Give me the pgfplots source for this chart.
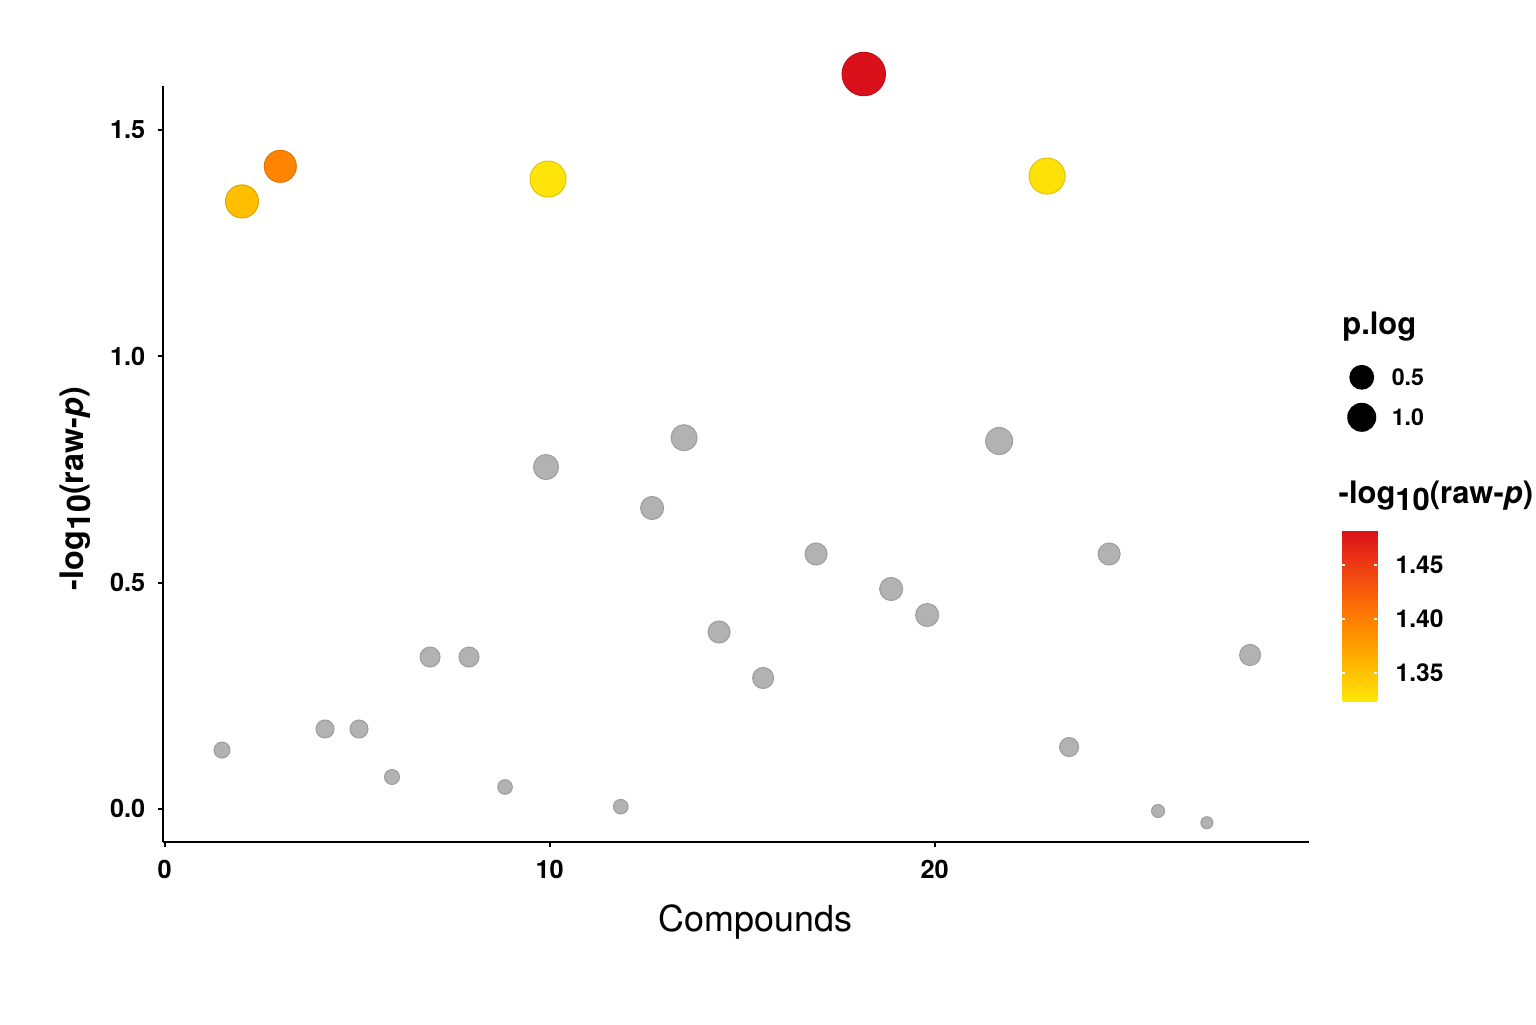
\documentclass[border=0pt]{standalone}
\usepackage{fontspec}
\setmainfont{TeX Gyre Heros}
\usepackage{pgfplots}
\pgfplotsset{compat=1.18}
\usepackage{pgfplotstable}

\definecolor{ptgray}{RGB}{178,178,178}
\definecolor{ptgrayedge}{RGB}{158,158,158}

% gray (non-significant) compounds: x, -log10(p), radius (px)
\pgfplotstableread{
x y r
1.491 0.130 8
4.166 0.1765 9
5.049 0.1765 9
5.906 0.0705 7.5
6.894 0.3355 10
7.906 0.3355 10
8.842 0.0484 7.3
9.906 0.7552 12.5
11.847 0.0049 7.3
12.660 0.6647 11.5
13.491 0.8200 13
14.400 0.3908 11
15.543 0.2892 10.5
16.919 0.5631 11
18.868 0.4858 11.5
19.803 0.4283 11.5
21.673 0.8127 13.5
23.490 0.1367 9.5
24.530 0.5631 11
25.800 -0.0046 6.5
27.068 -0.0305 6
28.190 0.3400 10.5
}\graydata

% significant compounds: x, -log10(p), radius (px), colour value
\pgfplotstableread{
x y r c
2.010 1.3420 16.5 1.352
3.005 1.4195 16.0 1.395
9.958 1.3914 18.0 1.326
18.158 1.6234 21.7 1.4825
22.919 1.3980 18.0 1.328
}\hitdata

\pgfplotsset{colormap={ylorred}{rgb255(0cm)=(255,232,10) rgb255(17cm)=(255,192,0) rgb255(49cm)=(255,125,0) rgb255(80cm)=(238,58,20) rgb255(100cm)=(218,16,26)}}

\begin{document}
\begin{tikzpicture}
\path[use as bounding box] (0,0) rectangle (15.36cm,-10.24cm);
\begin{axis}[
  at={(1.627cm,-8.423cm)}, anchor=south west,
  scale only axis, width=11.463cm, height=7.563cm,
  xmin=-0.049, xmax=29.72, ymin=-0.0738, ymax=1.5969,
  axis x line*=bottom, axis y line*=left,
  axis line style={line width=0.6pt, black, -},
  xtick={0,10,20}, ytick={0,0.5,1,1.5},
  tick align=outside, major tick length=0.5mm,
  tick style={line width=0.6pt, black},
  /pgf/number format/assume math mode=true,
  ticklabel style={font=\bfseries\fontsize{7.2}{8}\selectfont},
  yticklabel style={/pgf/number format/fixed, /pgf/number format/fixed zerofill, /pgf/number format/precision=1},
  xlabel={Compounds},
  xlabel style={font=\fontsize{10.2}{12}\selectfont, at={(axis description cs:0.517,-0.0665)}, anchor=north},
  ylabel={\bfseries -log\raisebox{-0.45ex}{10}(raw-\textit{p})},
  ylabel style={font=\fontsize{9.2}{11}\selectfont, at={(axis description cs:-0.0695,0.468)}, anchor=base},
  clip=false,
  colormap name=ylorred,
  point meta min=1.323, point meta max=1.4825,
  colorbar right,
  colorbar style={
    at={(parent axis.south east)}, anchor=north west,
    xshift=0.33mm, yshift=31.23mm,
    scale only axis, width=0.35cm, height=1.717cm,
    ytick={1.35,1.40,1.45},
    /pgf/number format/assume math mode=true,
    yticklabel style={font=\bfseries\fontsize{7.0}{8}\selectfont, xshift=0.6mm,
      /pgf/number format/fixed, /pgf/number format/fixed zerofill, /pgf/number format/precision=2},
    axis line style={draw=none},
    tick style={white, line width=0.5pt}, major tick length=0.3mm, tick align=inside,
  },
  legend style={draw=none, fill=none, at={(axis description cs:1.0338,0.6413)}, anchor=north west,
    inner sep=0pt, outer sep=0pt, row sep=0pt, column sep=1.6mm,
    nodes={inner sep=0pt, yshift=0.6mm}, font=\bfseries\fontsize{6.6}{7}\selectfont},
  legend cell align=left,
  legend image code/.code={\draw[#1] plot coordinates {(0cm,0.8mm)}; \path[draw=none, fill=none] (-1.4mm,-1.2mm) rectangle (1.4mm,2.8mm);},
]
\addplot[scatter, only marks, mark=*, forget plot, point meta=y,
  scatter/use mapped color={draw=ptgrayedge, fill=ptgray, line width=0.3pt},
  visualization depends on={0.2845*\thisrow{r} \as \rad},
  scatter/@pre marker code/.append style={/tikz/mark size=\rad}]
  table[x=x, y=y] {\graydata};
\addplot[scatter, only marks, mark=*, forget plot, point meta=\thisrow{c},
  scatter/use mapped color={draw=mapped color!88!black, fill=mapped color, line width=0.3pt},
  visualization depends on={0.2845*\thisrow{r} \as \rad},
  scatter/@pre marker code/.append style={/tikz/mark size=\rad}]
  table[x=x, y=y] {\hitdata};
\addlegendimage{only marks, mark=*, mark size=3.33pt, black}
\addlegendentry{0.5}
\addlegendimage{only marks, mark=*, mark size=3.93pt, black}
\addlegendentry{1.0}
\node[anchor=base west, inner sep=0pt, font=\bfseries\fontsize{8.8}{10}\selectfont] at (axis description cs:1.0285,0.6708) {p.log};
\node[anchor=base west, inner sep=0pt, font=\bfseries\fontsize{8.8}{10}\selectfont] at (axis description cs:1.0253,0.4486) {-log\raisebox{-0.45ex}{10}(raw-\textit{p})};
\end{axis}
\end{tikzpicture}
\end{document}
